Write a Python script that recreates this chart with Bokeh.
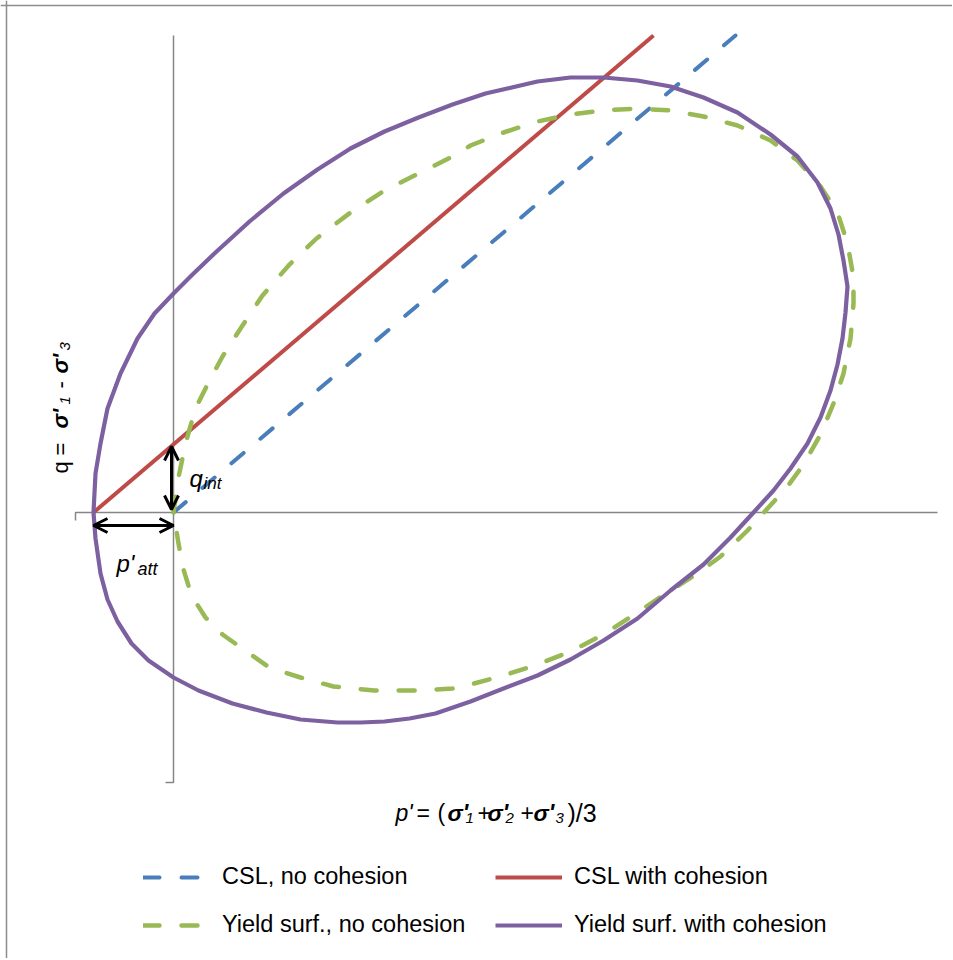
import math
from bokeh.plotting import figure
from bokeh.models import Range1d, Label, Arrow, OpenHead, Legend, LegendItem, Span
from bokeh.embed import file_html
from bokeh.resources import INLINE

# ---------------- data (stress units) ----------------
P_ATT = 80          # attraction
Q_INT = 68          # intercept of CSL with cohesion

# critical state lines
CSL0_P = [0, 562]
CSL0_Q = [0, 477]
CSLC_P = [-80, 480]
CSLC_Q = [0, 477]

# yield surface, no cohesion
YS0_P = [0, 5, 12, 22, 35, 49, 69, 89, 116, 143, 177, 211, 245, 279, 297, 330, 364, 397,
         430, 464, 497, 530, 564, 597, 624, 647, 664, 674, 680, 680, 677, 670, 660, 647,
         630, 614, 594, 574, 547, 524, 497, 464, 430, 397, 364, 330, 297, 279, 245, 201,
         160, 127, 96, 73, 49, 32, 18, 10, 5, 0]
YS0_Q = [0, 35, 69, 104, 130, 156, 187, 217, 248, 274, 300, 322, 339, 356, 367, 380, 391, 398,
         402, 404, 402, 396, 387, 372, 352, 326, 300, 269, 235, 209, 174, 139, 109, 78,
         48, 26, 4, -18, -44, -61, -78, -100, -122, -139, -152, -163, -172, -176, -178, -178,
         -174, -165, -155, -139, -122, -105, -83, -57, -31, 0]

# yield surface with cohesion
YSC_P = [-80, -78, -73, -66, -53, -36, -19, 0, 19, 42, 76, 110, 144, 177, 211, 245, 279, 312,
         364, 397, 430, 464, 497, 530, 564, 597, 624, 644, 657, 665, 670, 674, 672, 669,
         664, 657, 647, 634, 617, 600, 580, 557, 530, 497, 464, 430, 397, 364, 330, 297,
         262, 236, 211, 187, 164, 127, 93, 59, 25, 0, -25, -42, -56, -66, -73, -78, -80]
YSC_Q = [0, 39, 69, 104, 139, 174, 199, 219, 238, 260, 291, 319, 343, 364, 381, 395, 408, 419,
         431, 435, 435, 432, 426, 415, 400, 378, 356, 330, 304, 278, 252, 226, 200, 174,
         148, 122, 95, 69, 44, 22, 0, -25, -52, -78, -106, -128, -147, -163, -176, -189,
         -201, -206, -209, -210, -210, -207, -200, -191, -178, -165, -148, -131, -109, -87,
         -61, -26, 0]

AXIS_P = [-98, 764]
AXIS_Q = [-270, 477]
TICK = 8

SERIES = ["CSL, no cohesion", "CSL with cohesion",
          "Yield surf., no cohesion", "Yield surf. with cohesion"]
COLORS = ["#4A7EBB", "#BE4B48", "#98B954", "#7D60A0"]

FONT = "Liberation Sans"

W, H = 952, 958
X0, Y0 = 173, 512   # origin position on the page

# ---------------- figure ----------------
p = figure(width=W, height=H, x_range=Range1d(-X0, W - X0), y_range=Range1d(Y0 - H, Y0),
           output_backend="svg", toolbar_location=None, min_border=0)
p.title.visible = False
p.axis.visible = False
p.grid.visible = False
p.outline_line_color = None
p.background_fill_color = "white"
p.border_fill_color = "white"

# chart border (left/top visible in window)
p.add_layout(Span(location=p.x_range.start + 6, dimension="height",
                  line_color="#8C8C8C", line_width=1.5))
p.add_layout(Span(location=p.y_range.end - 5, dimension="width",
                  line_color="#8C8C8C", line_width=1.5))

# axes through origin
AX = "#868686"
p.line([AXIS_P[0], AXIS_P[0], AXIS_P[1]], [-TICK, 0, 0], line_color=AX, line_width=1.5)
p.line([-TICK, 0, 0], [AXIS_Q[0], AXIS_Q[0], AXIS_Q[1]], line_color=AX, line_width=1.5)

DASH = "16 22"
r1 = p.line(CSL0_P, CSL0_Q, line_color=COLORS[0], line_width=4, line_dash=DASH, line_cap="round")
r2 = p.line(CSLC_P, CSLC_Q, line_color=COLORS[1], line_width=4)
r3 = p.line(YS0_P, YS0_Q, line_color=COLORS[2], line_width=4.5, line_dash=DASH,
            line_cap="round", line_join="round")
r4 = p.line(YSC_P, YSC_Q, line_color=COLORS[3], line_width=4.2, line_join="round")


def head():
    return OpenHead(size=14, line_width=3, line_color="black")


# arrows for p'att and q_int
p.add_layout(Arrow(start=head(), end=head(),
                   x_start=-P_ATT, y_start=-13, x_end=0, y_end=-13,
                   line_width=3, line_color="black"))
p.add_layout(Arrow(start=head(), end=head(),
                   x_start=-2, y_start=3, x_end=-2, y_end=Q_INT - 2,
                   line_width=3, line_color="black"))


def txt(x, y, s, size, style="normal", angle=0.0):
    p.add_layout(Label(x=x, y=y, text=s, text_font=FONT, text_font_size=f"{size}px",
                       text_font_style=style, text_color="black", angle=angle,
                       text_align="left", text_baseline="alphabetic"))


def at(px, py):
    """page pixel -> data position (for text placement)"""
    return px - X0, Y0 - py


# q_int / p'att annotations
txt(*at(189, 478), "q", 24, "italic")
txt(*at(203, 483), "int", 17, "italic")
txt(*at(116, 563), "p'", 24, "italic")
txt(*at(137, 568), "att", 18, "italic")

# x axis title: p' = (σ'1 +σ'2 + σ'3)/3
BL, SB = 812, 817
for px, s, size, style, base in [
        (395, "p'", 23, "italic", BL), (416, "=", 23, "normal", BL),
        (437, "(", 23, "normal", BL), (447, "σ'", 23, "bold italic", BL),
        (465, "1", 15, "italic", SB), (477, "+", 23, "normal", BL),
        (487, "σ'", 23, "bold italic", BL), (505, "2", 15, "italic", SB),
        (520, "+", 23, "normal", BL), (533, "σ'", 23, "bold italic", BL),
        (555, "3", 15, "italic", SB), (567, ")/3", 25, "normal", BL)]:
    txt(*at(px, base), s, size, style)

# y axis title: q = σ'1 -σ'3 (rotated, reads upward)
A = math.pi / 2
YB, YS = 60, 64
for py, s, size, style, base in [
        (473, "q", 22, "normal", YB), (455, "=", 22, "normal", YB),
        (428, "σ'", 22, "bold italic", YB), (404, "1", 15, "italic", YS),
        (388, "-", 22, "normal", YB), (373, "σ'", 22, "bold italic", YB),
        (350, "3", 15, "italic", YS)]:
    txt(*at(base, py), s, size, style, A)

# legends (two columns)
for items, lx in (([(SERIES[0], r1), (SERIES[2], r3)], 143),
                  ([(SERIES[1], r2), (SERIES[3], r4)], 495)):
    lg = Legend(items=[LegendItem(label=l, renderers=[r]) for l, r in items],
                location=(lx, 20), orientation="vertical",
                glyph_width=67, glyph_height=24, label_height=24, label_standoff=12,
                spacing=21, padding=0, margin=0, border_line_color=None,
                background_fill_alpha=0, label_text_font=FONT,
                label_text_font_size="23.5px", label_text_color="black")
    p.add_layout(lg)

open("out.html", "w").write(file_html(p, INLINE))
